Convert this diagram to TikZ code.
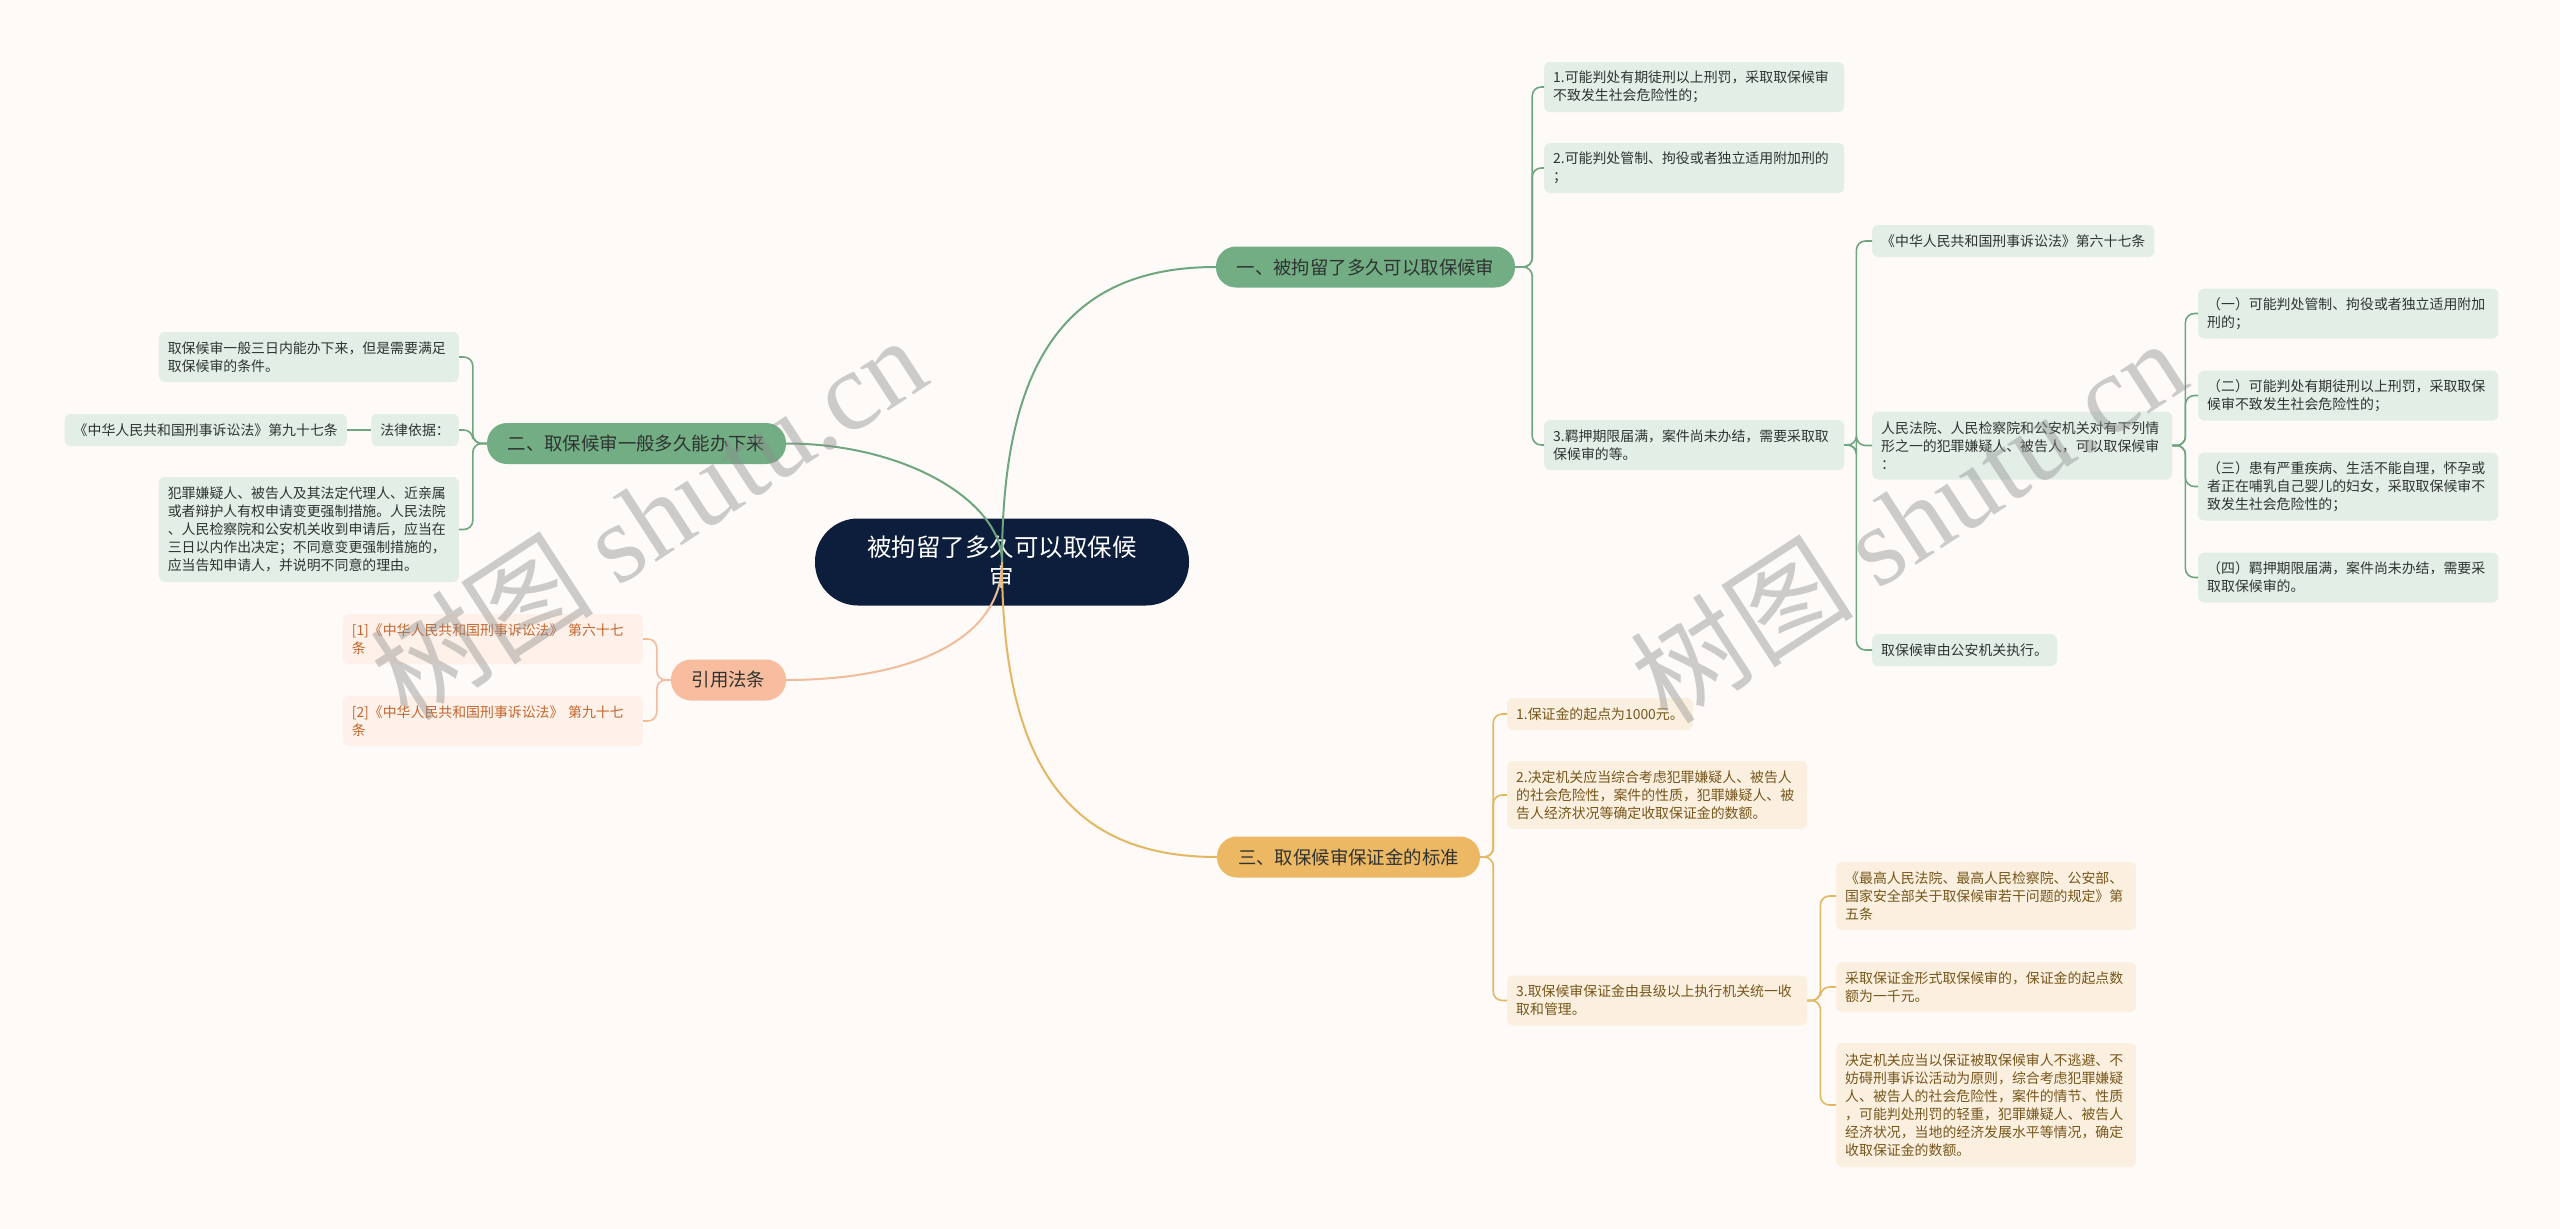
\documentclass[tikz,border=0pt]{standalone}
\usepackage{fontspec}
\setmainfont{Noto Sans CJK SC}
\newfontfamily\wmlatin{Liberation Serif}
\usepackage{xcolor}
\usepackage{tikz}
\usetikzlibrary{calc}
\definecolor{mapbg}{HTML}{FDFAF8}
\definecolor{mapnavy}{HTML}{0C1E3B}
\definecolor{mapdark}{HTML}{2F3331}
\definecolor{mapgreen}{HTML}{72AD84}
\definecolor{mapgreenline}{HTML}{6FA680}
\definecolor{mapgreenleaf}{HTML}{E3EFE6}
\definecolor{mapgold}{HTML}{EDB863}
\definecolor{mapgoldline}{HTML}{E3B763}
\definecolor{mapgoldleaf}{HTML}{FBF0E0}
\definecolor{mapgoldtext}{HTML}{76561A}
\definecolor{mapsalmon}{HTML}{F8BD9F}
\definecolor{mapsalmonline}{HTML}{F0BC9A}
\definecolor{mapsalmonleaf}{HTML}{FDF1E9}
\definecolor{mapsalmontext}{HTML}{C4662E}
\tikzset{
rootnode/.style={
	fill=mapnavy,
	text=white,
	rounded corners=43pt,
	minimum width=374,
	minimum height=87,
	align=center,
	font=\fontsize{24.5}{30}\selectfont
},
topic/.style={rounded corners=20pt, minimum height=41, inner xsep=0, text=mapdark, font=\fontsize{18.4}{22}\selectfont},
leaf/.style={rounded corners=6pt, inner xsep=9, inner ysep=0, align=left, font=\fontsize{13.9}{18}\selectfont},
gleaf/.style={leaf, fill=mapgreenleaf, text=mapdark},
oleaf/.style={leaf, fill=mapgoldleaf, text=mapgoldtext},
sleaf/.style={leaf, fill=mapsalmonleaf, text=mapsalmontext},
wide/.style={text width=282},
oneline/.style={minimum height=32},
twolines/.style={minimum height=50},
threelines/.style={minimum height=68},
fivelines/.style={minimum height=105},
sixlines/.style={minimum height=124},
rootedge/.style={line width=2},
greenedge/.style={draw=mapgreenline, line width=1.6, rounded corners=9pt},
goldedge/.style={draw=mapgoldline, line width=1.6, rounded corners=9pt},
salmonedge/.style={draw=mapsalmonline, line width=1.6, rounded corners=9pt},
watermark/.style={text=black!45, opacity=0.42, rotate=33, font=\fontsize{112}{120}\selectfont}
}
\begin{document}
\begin{tikzpicture}[x=1pt,y=-1pt]
% canvas in pixel units of the 2560 x 1229 layout
\fill[mapbg] (0,0) rectangle (2560,1229);
\useasboundingbox (0,0) rectangle (2560,1229);

% ── Root ───────────────────────────────────────────────────────
\node[rootnode] (root) at (1002,562) {被拘留了多久可以取保候\\审};

% ── Branch 1: how long before bail (right, green) ─────────────
\node[topic, fill=mapgreen, minimum width=299] (b1) at (1365.5,267) {一、被拘留了多久可以取保候审};
\node[gleaf, twolines, wide, anchor=west] (b1a) at (1544,87)
 {1.可能判处有期徒刑以上刑罚，采取取保候审\\不致发生社会危险性的；};
\node[gleaf, twolines, wide, anchor=west] (b1b) at (1544,168)
 {2.可能判处管制、拘役或者独立适用附加刑的\\；};
\node[gleaf, twolines, wide, anchor=west] (b1c) at (1544,445)
 {3.羁押期限届满，案件尚未办结，需要采取取\\保候审的等。};
\node[gleaf, oneline, anchor=west] (law67) at (1872,241) {《中华人民共和国刑事诉讼法》第六十七条};
\node[gleaf, threelines, wide, anchor=west] (cases) at (1872,445.5)
 {人民法院、人民检察院和公安机关对有下列情\\形之一的犯罪嫌疑人、被告人，可以取保候审\\：};
\node[gleaf, oneline, anchor=west] (police) at (1872,650) {取保候审由公安机关执行。};
\node[gleaf, twolines, wide, anchor=west] (case1) at (2198,313.5)
 {（一）可能判处管制、拘役或者独立适用附加\\刑的；};
\node[gleaf, twolines, wide, anchor=west] (case2) at (2198,395.5)
 {（二）可能判处有期徒刑以上刑罚，采取取保\\候审不致发生社会危险性的；};
\node[gleaf, threelines, wide, anchor=west] (case3) at (2198,486.5)
 {（三）患有严重疾病、生活不能自理，怀孕或\\者正在哺乳自己婴儿的妇女，采取取保候审不\\致发生社会危险性的；};
\node[gleaf, twolines, wide, anchor=west] (case4) at (2198,577.5)
 {（四）羁押期限届满，案件尚未办结，需要采\\取取保候审的。};
\foreach \c in {b1a,b1b,b1c} \draw[greenedge] (b1.east) -- ++(17,0) |- (\c.west);
\foreach \c in {law67,cases,police} \draw[greenedge] (b1c.east) -- ++(12,0) |- (\c.west);
\foreach \c in {case1,case2,case3,case4} \draw[greenedge] (cases.east) -- ++(13,0) |- (\c.west);

% ── Branch 2: how long it takes (left, green) ─────────────────
\node[topic, fill=mapgreen, minimum width=299] (b2) at (636.5,443.5) {二、取保候审一般多久能办下来};
\node[gleaf, twolines, wide, anchor=east] (quick) at (459,357)
 {取保候审一般三日内能办下来，但是需要满足\\取保候审的条件。};
\node[gleaf, oneline, anchor=east] (basis) at (459,430) {法律依据：};
\node[gleaf, oneline, anchor=east] (law97) at (347,430) {《中华人民共和国刑事诉讼法》第九十七条};
\node[gleaf, fivelines, wide, anchor=east] (apply) at (459,529.5)
 {犯罪嫌疑人、被告人及其法定代理人、近亲属\\或者辩护人有权申请变更强制措施。人民法院\\、人民检察院和公安机关收到申请后，应当在\\三日以内作出决定；不同意变更强制措施的，\\应当告知申请人，并说明不同意的理由。};
\foreach \c in {quick,basis,apply} \draw[greenedge] (b2.west) -- ++(-14,0) |- (\c.east);
\draw[greenedge] (basis.west) -- (law97.east);

% ── Branch 4: cited articles (left, salmon) ───────────────────
\node[topic, fill=mapsalmon, minimum width=115] (b4) at (728.5,680) {引用法条};
\node[sleaf, twolines, wide, anchor=east] (ref1) at (643,639)
 {[1]《中华人民共和国刑事诉讼法》 第六十七\\条};
\node[sleaf, twolines, wide, anchor=east] (ref2) at (643,721)
 {[2]《中华人民共和国刑事诉讼法》 第九十七\\条};
\foreach \c in {ref1,ref2} \draw[salmonedge] (b4.west) -- ++(-14,0) |- (\c.east);

% ── Branch 3: bail money standard (right, gold) ───────────────
\node[topic, fill=mapgold, minimum width=263] (b3) at (1348.5,857) {三、取保候审保证金的标准};
\node[oleaf, oneline, anchor=west] (bail1) at (1507,714) {1.保证金的起点为1000元。};
\node[oleaf, threelines, wide, anchor=west] (bail2) at (1507,795)
 {2.决定机关应当综合考虑犯罪嫌疑人、被告人\\的社会危险性，案件的性质，犯罪嫌疑人、被\\告人经济状况等确定收取保证金的数额。};
\node[oleaf, twolines, wide, anchor=west] (bail3) at (1507,1000.5)
 {3.取保候审保证金由县级以上执行机关统一收\\取和管理。};
\node[oleaf, threelines, wide, anchor=west] (rule1) at (1836,896)
 {《最高人民法院、最高人民检察院、公安部、\\国家安全部关于取保候审若干问题的规定》第\\五条};
\node[oleaf, twolines, wide, anchor=west] (rule2) at (1836,987)
 {采取保证金形式取保候审的，保证金的起点数\\额为一千元。};
\node[oleaf, sixlines, wide, anchor=west] (rule3) at (1836,1105)
 {决定机关应当以保证被取保候审人不逃避、不\\妨碍刑事诉讼活动为原则，综合考虑犯罪嫌疑\\人、被告人的社会危险性，案件的情节、性质\\，可能判处刑罚的轻重，犯罪嫌疑人、被告人\\经济状况，当地的经济发展水平等情况，确定\\收取保证金的数额。};
\foreach \c in {bail1,bail2,bail3} \draw[goldedge] (b3.east) -- ++(13,0) |- (\c.west);
\foreach \c in {rule1,rule2,rule3} \draw[goldedge] (bail3.east) -- ++(13,0) |- (\c.west);

% ── Root to topics (drawn over the root) ──────────────────────
\draw[rootedge, mapgreenline] (root.center) .. controls +(0,-200) and +(-150,0) .. (b1.west);
\draw[rootedge, mapgreenline] (root.center) .. controls +(0,-60) and +(120,0) .. (b2.east);
\draw[rootedge, mapsalmonline] (root.center) .. controls +(0,80) and +(120,0) .. (b4.east);
\draw[rootedge, mapgoldline] (root.center) .. controls +(0,200) and +(-150,0) .. (b3.west);

% ── Watermarks ────────────────────────────────────────────────
\node[watermark] (mark1) at (648,517) {树图 {\wmlatin shutu.cn}};
\node[watermark] (mark2) at (1908,520) {树图 {\wmlatin shutu.cn}};
\end{tikzpicture}
\end{document}
